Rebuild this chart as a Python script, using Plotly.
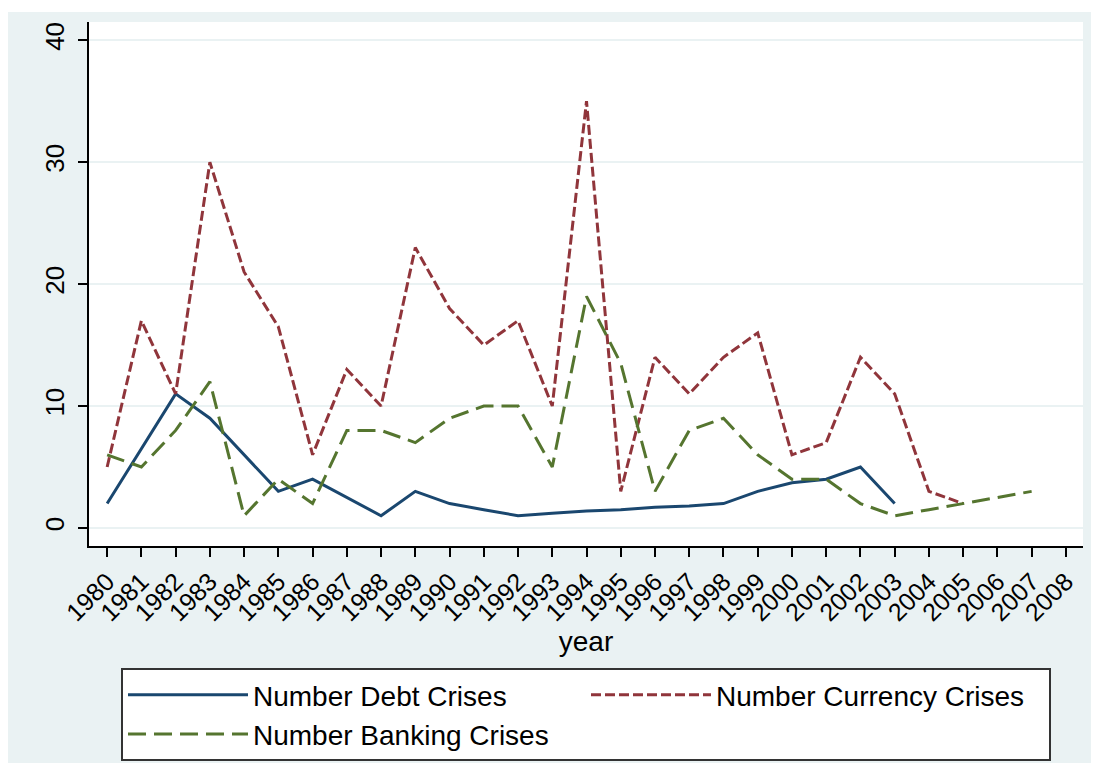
import plotly.graph_objects as go

years_debt = list(range(1980, 2004))
debt = [2, 6.5, 11, 9, 6, 3, 4, 2.5, 1, 3, 2, 1.5, 1, 1.2, 1.4, 1.5, 1.7, 1.8, 2, 3, 3.7, 4, 5, 2]

years_currency = list(range(1980, 2006))
currency = [5, 17, 11, 30, 21, 16.5, 6, 13, 10, 23, 18, 15, 17, 10, 35, 3, 14, 11, 14, 16, 6, 7, 14, 11, 3, 2]

years_banking = list(range(1980, 2008))
banking = [6, 5, 8, 12, 1, 4, 2, 8, 8, 7, 9, 10, 10, 5, 19, 13.5, 3, 8, 9, 6, 4, 4, 2, 1, 1.5, 2, 2.5, 3]

x_ticks = list(range(1980, 2009))
y_ticks = [0, 10, 20, 30, 40]

# page is rendered with an 8px body margin -> work in figure coords = page - 8
OFF = 8
W, H = 1099 - OFF, 763 - OFF
L, R, T, B = 89 - OFF, W - (1083 - OFF), 22 - OFF, H - (546 - OFF)
pw, ph = W - L - R, H - T - B


def px_x(p):
    return (p - OFF - L) / pw


def px_y(p):
    return (H - B - (p - OFF)) / ph


def cont_x(p):
    return (p - OFF) / W


def cont_y(p):
    return 1 - (p - OFF) / H


FONT = "Liberation Sans, Arial, sans-serif"
BG = "#EAF2F3"

fig = go.Figure()
fig.add_trace(go.Scatter(x=years_debt, y=debt, mode="lines", name="Number Debt Crises",
                         line=dict(color="#1a476f", width=3)))
fig.add_trace(go.Scatter(x=years_currency, y=currency, mode="lines", name="Number Currency Crises",
                         line=dict(color="#90353b", width=3, dash="10px,4px")))
fig.add_trace(go.Scatter(x=years_banking, y=banking, mode="lines", name="Number Banking Crises",
                         line=dict(color="#55752f", width=3, dash="18px,8px")))

# thin white strips at top and right edges (outside plot area)
fig.add_shape(type="rect", xref="paper", yref="paper", layer="below",
              x0=px_x(0), x1=px_x(1100), y0=px_y(12), y1=px_y(0),
              fillcolor="white", line=dict(width=0))
fig.add_shape(type="rect", xref="paper", yref="paper", layer="below",
              x0=px_x(1092), x1=px_x(1100), y0=px_y(770), y1=px_y(0),
              fillcolor="white", line=dict(width=0))

fig.update_layout(
    width=W, height=H,
    margin=dict(l=L, r=R, t=T, b=B, autoexpand=False),
    paper_bgcolor=BG,
    plot_bgcolor="white",
    font=dict(family=FONT, color="black", size=25),
    showlegend=True,
    legend=dict(
        orientation="h",
        xref="container", yref="container",
        x=cont_x(121), y=cont_y(668), xanchor="left", yanchor="top",
        bgcolor="white", bordercolor="#333333", borderwidth=2,
        font=dict(size=28, family=FONT),
        itemwidth=120,
        entrywidth=328, entrywidthmode="pixels",
        itemclick=False, itemdoubleclick=False,
    ),
    xaxis=dict(
        range=[1979.47, 2008.5],
        tickmode="array", tickvals=x_ticks, ticktext=[str(v) for v in x_ticks],
        tickangle=-45,
        ticks="outside", ticklen=9, tickwidth=1.5, tickcolor="black",
        showline=True, linecolor="black", linewidth=2,
        showgrid=False, zeroline=False,
        tickfont=dict(size=25),
        title=dict(text="year", font=dict(size=28), standoff=0),
        automargin=False,
    ),
    yaxis=dict(
        range=[-1.48, 41.5],
        tickmode="array", tickvals=y_ticks,
        tickangle=-90,
        ticks="outside", ticklen=9, tickwidth=1.5, tickcolor="black",
        showline=True, linecolor="black", linewidth=2,
        showgrid=True, gridcolor=BG, gridwidth=2,
        zeroline=False,
        tickfont=dict(size=26),
        ticklabelstandoff=4,
        automargin=False,
    ),
)

fig.write_html("out.html")
